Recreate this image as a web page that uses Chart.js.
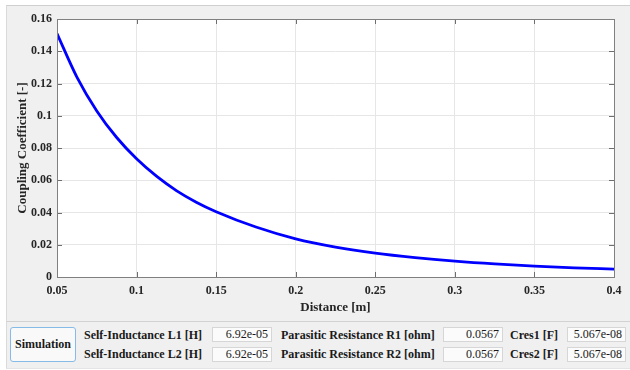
<!DOCTYPE html>
<html>
<head>
<meta charset="utf-8">
<script src="https://cdn.jsdelivr.net/npm/chart.js@4.4.1/dist/chart.umd.min.js"></script>
<style>
    body { margin: 0; width: 630px; height: 370px; background: #fff; overflow: hidden; position: relative; font-family: "Liberation Serif", serif; }
    #panel { position: absolute; left: 6px; top: 5px; width: 624px; height: 316px; background: #f0f0f0; border-top: 1px solid #cfcfcf; border-left: 1px solid #dadada; box-sizing: border-box; }
    #controls { position: absolute; left: 6px; top: 321px; width: 624px; height: 48px; background: #f0f0f0; border-top: 1px solid #d2d2d2; border-bottom: 1px solid #e4e4e4; border-left: 1px solid #dadada; box-sizing: border-box; }
    #chartBox { position: absolute; left: 0; top: 0; width: 630px; height: 321px; }
    .btn { position: absolute; left: 10px; top: 327px; width: 66px; height: 35px; box-sizing: border-box; border: 1px solid #86bbe8; border-radius: 3px; background: #f9f9f9; font-weight: bold; font-size: 12px; color: #1a1a1a; text-align: center; line-height: 33px; }
    .lbl { position: absolute; font-weight: bold; font-size: 12px; color: #1a1a1a; height: 15px; line-height: 15px; white-space: nowrap; }
    .fld { position: absolute; height: 15px; box-sizing: border-box; border: 1px solid #d6d6d6; background: #fbfbfb; font-size: 12px; color: #1a1a1a; text-align: right; padding-right: 3px; line-height: 13px; }
</style>
</head>
<body>
<div id="panel"></div>
<div id="controls"></div>
<div id="chartBox"><canvas id="couplingChart" width="630" height="321"></canvas></div>

<div class="btn">Simulation</div>
<div class="lbl" style="left:84px; top:328px;">Self-Inductance L1 [H]</div>
<div class="lbl" style="left:84px; top:347px;">Self-Inductance L2 [H]</div>
<div class="fld" style="left:212px; top:327px; width:60px;">6.92e-05</div>
<div class="fld" style="left:212px; top:347px; width:60px;">6.92e-05</div>
<div class="lbl" style="left:281px; top:328px;">Parasitic Resistance R1 [ohm]</div>
<div class="lbl" style="left:281px; top:347px;">Parasitic Resistance R2 [ohm]</div>
<div class="fld" style="left:443px; top:327px; width:60px;">0.0567</div>
<div class="fld" style="left:443px; top:347px; width:60px;">0.0567</div>
<div class="lbl" style="left:510px; top:328px;">Cres1 [F]</div>
<div class="lbl" style="left:510px; top:347px;">Cres2 [F]</div>
<div class="fld" style="left:567px; top:327px; width:59px;">5.067e-08</div>
<div class="fld" style="left:567px; top:347px; width:59px;">5.067e-08</div>

<script>
// Data
const distance = [0.05, 0.0625, 0.075, 0.0875, 0.1, 0.1125, 0.125, 0.1375, 0.15, 0.175, 0.2, 0.225, 0.25, 0.275, 0.3, 0.325, 0.35, 0.375, 0.4];
const coupling = [0.151, 0.124, 0.103, 0.0865, 0.0733, 0.0625, 0.0536, 0.0464, 0.0405, 0.0310, 0.0237, 0.0186, 0.0148, 0.0120, 0.0098, 0.0081, 0.0068, 0.0057, 0.0049];

// Axis ticks
const xTickValues = [0.05, 0.1, 0.15, 0.2, 0.25, 0.3, 0.35, 0.4];
const yTickValues = [0, 0.02, 0.04, 0.06, 0.08, 0.1, 0.12, 0.14, 0.16];

const fmt = v => String(+v.toFixed(3));

// White plot background, box and inward ticks (MATLAB style)
const boxPlugin = {
    id: 'boxPlugin',
    beforeDraw(chart) {
        const a = chart.chartArea;
        const ctx = chart.ctx;
        ctx.save();
        ctx.fillStyle = '#ffffff';
        ctx.fillRect(a.left, a.top, a.right - a.left, a.bottom - a.top);
        ctx.restore();
    },
    afterDatasetsDraw(chart) {
        const a = chart.chartArea;
        const ctx = chart.ctx;
        const xs = chart.scales.x, ys = chart.scales.y;
        ctx.save();
        ctx.strokeStyle = '#6e6e6e';
        ctx.lineWidth = 1;
        ctx.beginPath();
        xTickValues.forEach(v => {
            const px = Math.round(xs.getPixelForValue(v)) + 0.5;
            ctx.moveTo(px, a.bottom); ctx.lineTo(px, a.bottom - 5);
            ctx.moveTo(px, a.top); ctx.lineTo(px, a.top + 5);
        });
        yTickValues.forEach(v => {
            const py = Math.round(ys.getPixelForValue(v)) + 0.5;
            ctx.moveTo(a.left, py); ctx.lineTo(a.left + 5, py);
            ctx.moveTo(a.right, py); ctx.lineTo(a.right - 5, py);
        });
        ctx.stroke();
        ctx.strokeStyle = '#808080';
        ctx.strokeRect(Math.round(a.left) + 0.5, Math.round(a.top) + 0.5, Math.round(a.right - a.left), Math.round(a.bottom - a.top));
        ctx.restore();
    }
};

const tickFont = { family: '"Liberation Serif", serif', size: 12, weight: 'bold' };
const titleFont = { family: '"Liberation Serif", serif', size: 13, weight: 'bold' };

new Chart(document.getElementById('couplingChart').getContext('2d'), {
    type: 'line',
    data: {
        datasets: [{
            label: 'Coupling Coefficient',
            data: distance.map((d, i) => ({ x: d, y: coupling[i] })),
            borderColor: '#0000ff',
            borderWidth: 2.8,
            pointRadius: 0,
            cubicInterpolationMode: 'monotone',
            fill: false
        }]
    },
    options: {
        responsive: false,
        animation: false,
        layout: { padding: { top: 19, right: 16, left: 0, bottom: 0 } },
        plugins: {
            legend: { display: false },
            tooltip: { enabled: false }
        },
        scales: {
            x: {
                type: 'linear',
                min: 0.05,
                max: 0.4,
                afterBuildTicks: s => { s.ticks = xTickValues.map(v => ({ value: v })); },
                afterFit: s => { s.height = 44; },
                grid: { color: '#e6e6e6', drawTicks: false },
                border: { display: false },
                ticks: { color: '#262626', font: tickFont, padding: 7, maxRotation: 0, autoSkip: false, callback: v => fmt(v) },
                title: { display: true, text: 'Distance [m]', color: '#262626', font: titleFont, padding: { top: 0, bottom: 6 } }
            },
            y: {
                min: 0,
                max: 0.16,
                afterBuildTicks: s => { s.ticks = yTickValues.map(v => ({ value: v })); },
                afterFit: s => { s.width = 57; },
                grid: { color: '#e6e6e6', drawTicks: false },
                border: { display: false },
                ticks: { color: '#262626', font: tickFont, padding: 5, autoSkip: false, callback: v => fmt(v) },
                title: { display: true, text: 'Coupling Coefficient [-]', color: '#262626', font: titleFont, padding: { top: 15, bottom: 0 } }
            }
        }
    },
    plugins: [boxPlugin]
});
</script>
</body>
</html>
